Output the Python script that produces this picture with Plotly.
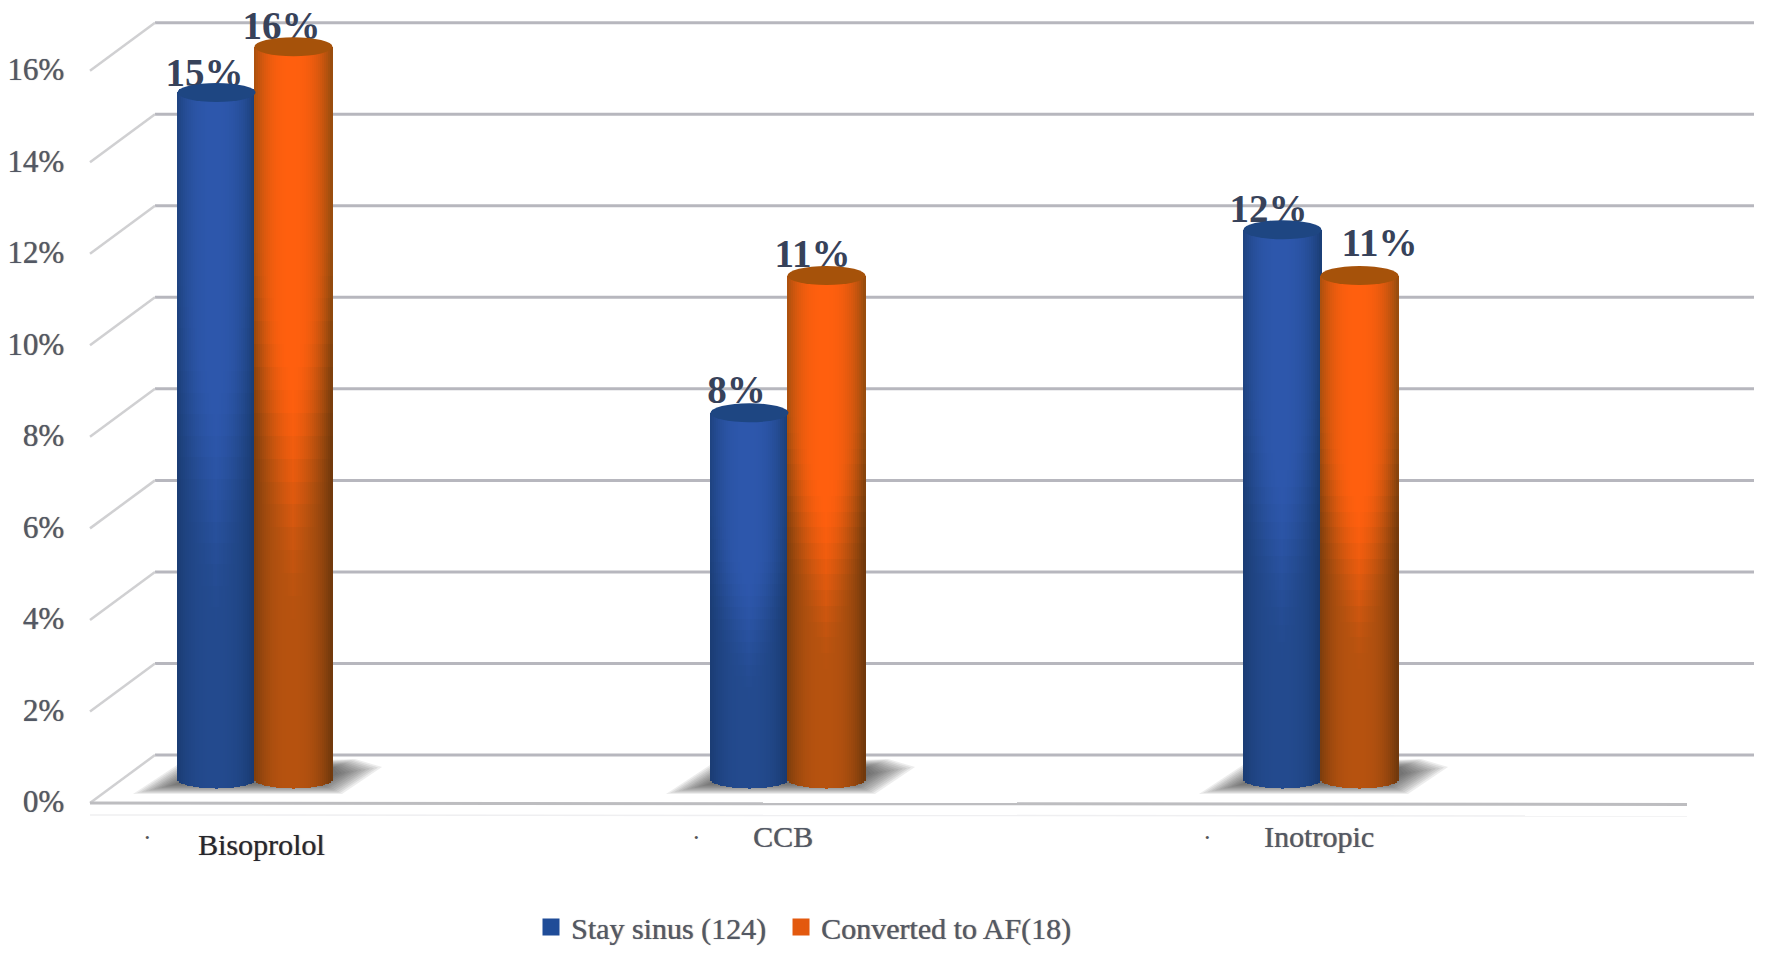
import math
import plotly.graph_objects as go

# ---- data ----
categories = ["Bisoprolol", "CCB", "Inotropic"]
stay_sinus = [15, 8, 12]
converted = [16, 11, 11]
y_ticks = [0, 2, 4, 6, 8, 10, 12, 14, 16]
series_names = ["Stay sinus (124)", "Converted to AF(18)"]

# ---- pixel frame of the page (scale set-up only) ----
W, H = 1772, 961
ML = 80
PX_PER_X = 533.0
PX_PER_Y = 45.77
X0_PX, Y0_PX = 255.0, 779.0
xr = [(ML - X0_PX) / PX_PER_X, (W - X0_PX) / PX_PER_X]
yr = [(Y0_PX - H) / PX_PER_Y, Y0_PX / PX_PER_Y]
dx = lambda px: px / PX_PER_X
dy = lambda px: px / PX_PER_Y

DEPTH = dy(24)
HALF_W = dx(39)
RY = dy(9.5)
CENTER_OFF = dx(38.5)
FRONT_L, FRONT_R = dx(90 - X0_PX), dx(1687 - X0_PX)
BACK_L, BACK_R = dx(155 - X0_PX), dx(1754 - X0_PX)

SERIF = "Liberation Serif, Times New Roman, serif"
TEXT = "#525864"
LABEL = "#37425a"
SOFT = "0.6px 0 0.8px rgba(70,75,90,0.75)"
LEGEND_PAD = ["\u00a0\u200a", ""]  # invisible padding that spaces the two legend entries


def lerp(a, b, t):
    return tuple(a[i] + (b[i] - a[i]) * t for i in range(3))


def rgb(c):
    return "rgb(%d,%d,%d)" % tuple(round(v) for v in c)


def smooth(a, b, v):
    t = max(0.0, min(1.0, (v - a) / (b - a)))
    return t * t * (3 - 2 * t)


# style per series: (centre top, edge top, centre bottom, edge bottom, lid, legend colour)
STYLE = [
    ((45, 87, 172), (28, 64, 122), (35, 74, 142), (25, 58, 112), (30, 70, 130), "#1f4c98"),
    ((255, 95, 14), (158, 78, 14), (182, 82, 15), (116, 58, 12), (166, 82, 10), "#e3590e"),
]

fig = go.Figure()
shapes = []

# back wall lines, slanted side lines, floor
for v in y_ticks:
    shapes.append(dict(type="line", layer="below", xref="x", yref="y", x0=BACK_L, x1=BACK_R,
                       y0=v + DEPTH, y1=v + DEPTH, line=dict(color="#b7b7be", width=3)))
    shapes.append(dict(type="line", layer="below", xref="x", yref="y", x0=FRONT_L, x1=BACK_L,
                       y0=v - DEPTH, y1=v + DEPTH, line=dict(color="#d0d0d2", width=2.5)))
shapes.append(dict(type="line", layer="below", xref="x", yref="y", x0=FRONT_L, x1=FRONT_R,
                   y0=-DEPTH, y1=-DEPTH - dy(1.5), line=dict(color="#bdbdc0", width=3)))
shapes.append(dict(type="line", layer="below", xref="x", yref="y", x0=FRONT_L, x1=FRONT_R,
                   y0=-DEPTH - dy(12), y1=-DEPTH - dy(13), line=dict(color="#efeff1", width=1.5)))

# floor shadows: nested soft layers
for i in range(len(categories)):
    for k in range(12):
        outline = [(-122 + 4 * k, -15 + 0.9 * k), (-78 + 2 * k, 14 - 0.6 * k), (100 - 2 * k, 20 - 0.8 * k),
                   (127 - 4 * k, 12 - 0.6 * k), (87 - 2 * k, -15 + 0.9 * k)]
        pts = [(i + dx(px), dy(py)) for px, py in outline]
        path = "M" + " L".join(f"{a:.4f},{b:.4f}" for a, b in pts) + " Z"
        shapes.append(dict(type="path", layer="below", xref="x", yref="y", path=path,
                           fillcolor="rgba(55,55,55,0.09)", line=dict(width=0)))

# cylinders
N_STRIPS, N_SEGS = 39, 32
all_values = [stay_sinus, converted]
for s, values in enumerate(all_values):
    sign = -1 if s == 0 else 1
    centres = [i + sign * CENTER_OFF for i in range(len(categories))]
    st = STYLE[s]

    # plain bar that carries the series and its legend entry
    fig.add_trace(go.Bar(
        x=centres, y=values, width=2 * HALF_W - dx(8), name=series_names[s] + LEGEND_PAD[s],
        marker=dict(color=st[5], line=dict(color=st[5], width=5)),
        legendgroup=series_names[s], hoverinfo="skip",
    ))

    # shading: thin strips over the plain bar
    xs, bases, heights, cols = [], [], [], []
    step = 2 * HALF_W / N_STRIPS
    for c, v in zip(centres, values):
        for j in range(N_STRIPS):
            t = -1 + (j + 0.5) * 2 / N_STRIPS
            lit = 1 - abs(t + 0.04) ** 2.6
            for g in range(N_SEGS):
                f0, f1 = g / N_SEGS, (g + 1) / N_SEGS
                low = f0 * v if g else -RY * math.sqrt(max(0.0, 1 - t * t))
                warm = smooth(0.2, 0.55, (f0 + f1) / 2 - 0.22 * abs(t))
                col = lerp(lerp(st[3], st[1], warm), lerp(st[2], st[0], warm), lit)
                xs.append(c + t * HALF_W)
                bases.append(low)
                heights.append(f1 * v - low)
                cols.append(rgb(col))
    fig.add_trace(go.Bar(
        x=xs, y=heights, base=bases, width=step * 1.3, marker=dict(color=cols, line=dict(width=0)),
        showlegend=False, legendgroup=series_names[s], hoverinfo="skip",
    ))

    # lids sit above the value labels
    for c, v in zip(centres, values):
        shapes.append(dict(type="circle", layer="above", xref="x", yref="y",
                           x0=c - HALF_W, x1=c + HALF_W, y0=v - RY, y1=v + RY,
                           fillcolor=rgb(st[4]), line=dict(width=0)))

# value labels
nudge_x = [[-12, -13, -14], [-12, -14, 20]]
nudge_y = [[16, 20, 18], [17, 18, 29]]
for s, values in enumerate(all_values):
    sign = -1 if s == 0 else 1
    fig.add_trace(go.Scatter(
        x=[i + sign * CENTER_OFF + dx(nudge_x[s][i]) for i in range(len(values))],
        y=[v + dy(nudge_y[s][i]) for i, v in enumerate(values)],
        text=[f"{v}%" for v in values], mode="text", textposition="middle center",
        textfont=dict(family=SERIF, size=39, color=LABEL, weight="bold"),
        showlegend=False, hoverinfo="skip",
    ))

# category labels and their stray bullets
cat_dx = [6, -5, -2]
cat_dy = [65, 57, 57]
dot_dx = [-108, -92, -114]
annotations = []
cat_col = ["#26262c", TEXT, TEXT]
for i, name in enumerate(categories):
    annotations.append(dict(xref="x", yref="y", x=i + dx(cat_dx[i]), y=-dy(cat_dy[i]),
                            text=name, showarrow=False, xanchor="center", yanchor="middle",
                            font=dict(family=SERIF, size=30, color=cat_col[i], shadow=SOFT)))
    annotations.append(dict(xref="x", yref="y", x=i + dx(dot_dx[i]), y=-dy(58),
                            text="•", showarrow=False, xanchor="center", yanchor="middle",
                            font=dict(family=SERIF, size=13, color="#555")))

fig.update_layout(
    width=W, height=H, autosize=False,
    margin=dict(l=ML, r=0, t=0, b=0, pad=0),
    paper_bgcolor="white", plot_bgcolor="white",
    barmode="overlay", bargap=0,
    shapes=shapes, annotations=annotations,
    xaxis=dict(range=xr, visible=False, fixedrange=True),
    yaxis=dict(range=yr, showgrid=False, zeroline=False, showline=False, fixedrange=True,
               tickmode="array", tickvals=[v - DEPTH + dy(1.5) for v in y_ticks],
               ticktext=[f"{v}%" for v in y_ticks], ticks="", ticklabelstandoff=15,
               tickfont=dict(family=SERIF, size=31, color=TEXT, shadow=SOFT)),
    legend=dict(orientation="h", x=(531 - ML) / (W - ML), y=(H - 927) / H, xanchor="left",
                yanchor="middle", font=dict(family=SERIF, size=30, color=TEXT, shadow=SOFT),
                bgcolor="rgba(0,0,0,0)", traceorder="normal"),
    showlegend=True,
)

fig.write_html("out.html", config=dict(displayModeBar=False),
               post_script="document.body.style.margin='0';")
